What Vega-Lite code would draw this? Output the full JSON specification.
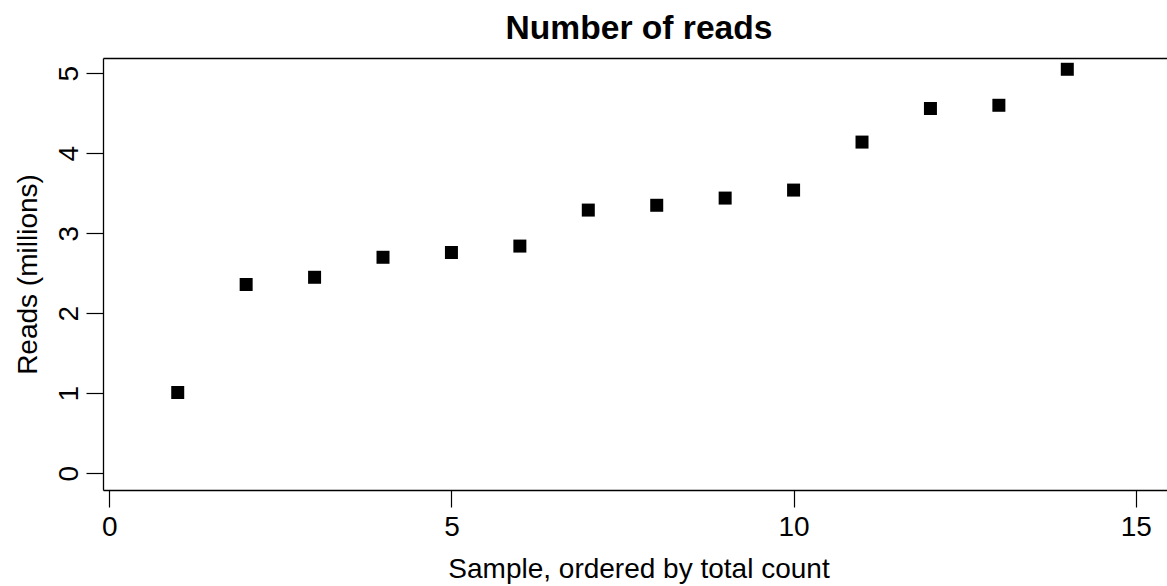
{
  "$schema": "https://vega.github.io/schema/vega-lite/v6.json",
  "width": 1064,
  "height": 432,
  "autosize": "none",
  "padding": {"left": 103, "top": 58, "right": 0, "bottom": 96},
  "background": "white",
  "config": {
    "view": {"stroke": null},
    "font": "Liberation Sans",
    "axis": {
      "grid": false,
      "domainColor": "black",
      "domainWidth": 1.3,
      "tickColor": "black",
      "tickWidth": 1.2,
      "tickSize": 17,
      "labelColor": "black",
      "labelFont": "Liberation Sans",
      "labelFontSize": 28,
      "labelFontWeight": "normal",
      "titleColor": "black",
      "titleFont": "Liberation Sans",
      "titleFontSize": 28,
      "titleFontWeight": "normal",
      "labelOverlap": false,
      "labelFlush": false
    }
  },
  "title": {
    "text": "Number of reads",
    "font": "Liberation Sans",
    "fontSize": 33.6,
    "fontWeight": "bold",
    "color": "black",
    "anchor": "middle",
    "baseline": "alphabetic",
    "offset": -15,
    "dx": 4
  },
  "data": {
    "values": [
      {"sample": 1, "reads": 1.01},
      {"sample": 2, "reads": 2.36},
      {"sample": 3, "reads": 2.45},
      {"sample": 4, "reads": 2.70},
      {"sample": 5, "reads": 2.76},
      {"sample": 6, "reads": 2.84},
      {"sample": 7, "reads": 3.29},
      {"sample": 8, "reads": 3.35},
      {"sample": 9, "reads": 3.44},
      {"sample": 10, "reads": 3.54},
      {"sample": 11, "reads": 4.14},
      {"sample": 12, "reads": 4.56},
      {"sample": 13, "reads": 4.60},
      {"sample": 14, "reads": 5.05}
    ]
  },
  "layer": [
    {
      "mark": {"type": "point", "shape": "square", "filled": true, "size": 169, "color": "black", "opacity": 1, "strokeWidth": 0},
      "encoding": {
        "x": {
          "field": "sample",
          "type": "quantitative",
          "scale": {"domain": [-0.092, 15.457], "nice": false, "zero": false},
          "axis": {
            "orient": "bottom",
            "values": [0, 5, 10, 15],
            "format": "d",
            "labelBaseline": "alphabetic",
            "labelPadding": 28,
            "title": "Sample, ordered by total count",
            "titleBaseline": "alphabetic",
            "titleAlign": "center",
            "titleX": 535.5,
            "titleY": 87
          }
        },
        "y": {
          "field": "reads",
          "type": "quantitative",
          "scale": {"domain": [-0.209, 5.191], "nice": false, "zero": false},
          "axis": {
            "orient": "left",
            "values": [0, 1, 2, 3, 4, 5],
            "format": "d",
            "labelAngle": 270,
            "labelAlign": "center",
            "labelBaseline": "alphabetic",
            "labelPadding": 9,
            "title": "Reads (millions)",
            "titleAngle": 270,
            "titleAlign": "center",
            "titleBaseline": "alphabetic",
            "titleX": -67,
            "titleY": 216
          }
        }
      }
    },
    {
      "mark": {"type": "point", "opacity": 0},
      "encoding": {
        "x": {
          "field": "sample",
          "type": "quantitative",
          "scale": {"domain": [-0.092, 15.457], "nice": false, "zero": false},
          "axis": {"orient": "top", "labels": false, "ticks": false, "title": null, "domain": true}
        },
        "y": {
          "field": "reads",
          "type": "quantitative",
          "scale": {"domain": [-0.209, 5.191], "nice": false, "zero": false}
        }
      }
    }
  ],
  "resolve": {"axis": {"x": "independent"}}
}
